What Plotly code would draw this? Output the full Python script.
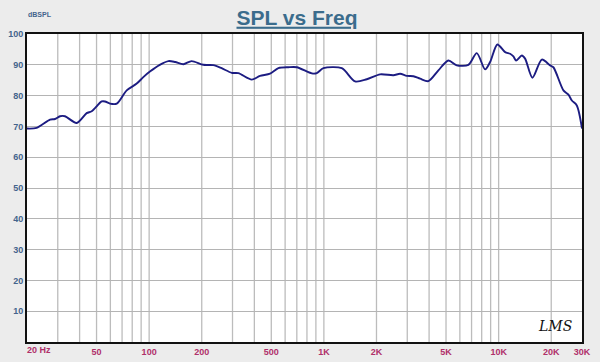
import plotly.graph_objects as go
import math

freq_hz = [20, 22.7, 27.1, 28.9, 30.9, 33.0, 38.5, 43.9, 46.9, 53.5, 55.9, 59.7, 65.3,
           74.4, 84.9, 92.6, 101, 115, 129, 141, 157, 175, 204, 233, 260, 297, 324,
           387, 431, 492, 549, 626, 700, 853, 911, 994, 1266, 1508, 1760, 2098, 2500,
           2730, 2982, 3253, 3554, 3964, 4522, 5159, 5762, 6714, 7501, 8368, 8939,
           9840, 10893, 11634, 12152, 12594, 13575, 14177, 15612, 17672, 19710, 20580,
           23485, 25096, 26248, 28021, 30000]
spl_db = [69.3, 69.5, 72.2, 72.4, 73.3, 73.3, 71.1, 74.3, 74.9, 78.1, 78.1, 77.4, 77.4,
          81.7, 83.9, 86.0, 87.8, 90.0, 91.2, 90.9, 90.2, 91.2, 90.0, 89.9, 88.9, 87.4,
          87.3, 85.2, 86.4, 87.1, 88.9, 89.2, 89.2, 87.2, 87.3, 88.9, 88.9, 84.6, 85.3,
          86.9, 86.6, 87.1, 86.4, 86.3, 85.5, 84.7, 88.2, 91.4, 89.8, 90.0, 93.8, 88.5,
          90.9, 96.6, 94.1, 93.6, 92.7, 91.4, 93.0, 92.0, 85.8, 91.7, 89.8, 89.2, 81.7,
          80.3, 78.4, 76.8, 69.3]

x_tick_vals = [20, 50, 100, 200, 500, 1000, 2000, 5000, 10000, 20000, 30000]
x_tick_text = ["", "50", "100", "200", "500", "1K", "2K", "5K", "10K", "20K", "30K"]
y_tick_vals = [10, 20, 30, 40, 50, 60, 70, 80, 90, 100]
y_tick_text = ["10", "20", "30", "40", "50", "60", "70", "80", "90", "100"]

grid_vals = []
for dec in [10, 100, 1000, 10000]:
    for m in range(1, 10):
        v = m * dec
        if 20 <= v <= 30000:
            grid_vals.append(v)

fig = go.Figure()
fig.add_trace(go.Scatter(x=freq_hz, y=spl_db, mode="lines",
                         line=dict(color="#1c1c82", width=1.9, shape="spline", smoothing=0.8),
                         hoverinfo="skip", showlegend=False))

for v in grid_vals:
    if v in (20, 30000):
        continue
    fig.add_shape(type="line", xref="x", yref="paper", x0=v, x1=v, y0=0, y1=1,
                  line=dict(color="#bcbcbc", width=1.3), layer="below")

fig.update_layout(
    width=600, height=362,
    paper_bgcolor="#ececec", plot_bgcolor="#ffffff",
    margin=dict(l=27, r=18, t=34, b=20, autoexpand=False),
    font=dict(family="Liberation Sans, Arial, sans-serif"),
    title=dict(text="<b><u>SPL vs Freq</u></b>", x=0.495, xanchor="center", y=0.952, yanchor="middle",
               yref="container", font=dict(size=21, color="#3b6c8c")),
    xaxis=dict(type="log", range=[math.log10(20), math.log10(30000)], automargin=False,
               tickvals=x_tick_vals, ticktext=["<b>%s</b>" % t if t else "" for t in x_tick_text],
               showgrid=False,
               tickfont=dict(size=9, color="#b0306a", family="Liberation Sans, Arial"),
               ticks="", showline=True, linecolor="#111111", linewidth=2, mirror=True,
               zeroline=False),
    yaxis=dict(range=[0, 100], tickvals=y_tick_vals, automargin=False,
               ticktext=["<b>%s</b>" % t for t in y_tick_text], showgrid=True,
               gridcolor="#b4b4b4", gridwidth=1,
               tickfont=dict(size=9, color="#44648c", family="Liberation Sans, Arial"),
               ticks="", showline=True, linecolor="#111111", linewidth=2, mirror=True,
               zeroline=False),
)

fig.add_annotation(text="<b>20 Hz</b>", xref="paper", yref="paper", x=0, y=0,
                   xanchor="left", yanchor="top", yshift=-1, xshift=-2, showarrow=False,
                   font=dict(size=9, color="#b0306a"))
fig.add_annotation(text="<b>dBSPL</b>", xref="paper", yref="paper", x=0, y=1,
                   xanchor="left", yanchor="bottom", yshift=14, xshift=-1, showarrow=False,
                   font=dict(size=7, color="#44648c"))
fig.add_annotation(text="<i>LMS</i>", xref="paper", yref="paper", x=0.985, y=0.02,
                   xanchor="right", yanchor="bottom", showarrow=False,
                   font=dict(size=14, color="#111111", family="DejaVu Serif"))

fig.write_html("out.html", config={"displayModeBar": False},
               post_script="document.body.style.margin='0';document.body.style.background='#ececec';")
